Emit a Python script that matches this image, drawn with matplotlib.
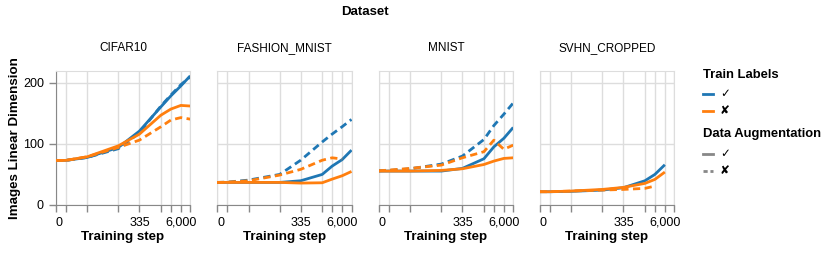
import matplotlib
matplotlib.use("Agg")
import matplotlib.pyplot as plt
from matplotlib.lines import Line2D
import numpy as np

# ── data ────────────────────────────────────────────────────────────
datasets = ["CIFAR10", "FASHION_MNIST", "MNIST", "SVHN_CROPPED"]
steps = [0, 1, 8, 77, 335, 1500, 3000, 6000, 11500]

# (labels, augmentation) -> values per dataset; None = no point
cifar_lab_aug = [72.7, 72.7, 77.6, 94, 120.8, 160.7, 178.7, 195, 211.5]
cifar_lab_noaug = [72.7, 72.7, 77.6, 92, 118, 162, 180, 197, 210]
cifar_nolab_aug = [72.7, 72.7, 78.7, 96.7, 115.8, 147, 157, 163, 162]
cifar_nolab_noaug = [72.7, 72.7, 78.7, 94, 106, 128, 139, 143, 140.5]

fashion_lab_aug = [36.6, 36.6, 36.6, 36.6, 39.3, 49.7, 63.4, 74, 89.6]
fashion_lab_noaug = [36.6, 37, 40.4, 49.7, 73, 103, 116, 128, 140]
fashion_nolab_aug = [36.6, 36.6, 36.6, 36.6, 35.5, 36, 42, 47.5, 54.6]
fashion_nolab_noaug = [36.6, 37, 39.3, 48.6, 58, 73, 77, 75, None]

mnist_lab_aug = [55.2, 55.2, 55.2, 55.2, 59.6, 75.4, 95, 109, 126.8]
mnist_lab_noaug = [55.7, 56.2, 59, 66.7, 79.8, 107, 130, 148.6, 167]
mnist_nolab_aug = [55.2, 55.2, 55.2, 56.3, 59, 66, 71.6, 76, 77]
mnist_nolab_noaug = [55.7, 56.8, 59.6, 65, 77, 87, 106, 91, 97.8]

svhn_lab_aug = [21.3, 21.3, 21.9, 24, 27.9, 39.3, 49.7, 65.6, None]
svhn_lab_noaug = [None] * 9
svhn_nolab_aug = [21.3, 21.3, 22.4, 25.1, 28.4, 35, 41.5, 53.6, None]
svhn_nolab_noaug = [21.3, 21.3, 22.4, 24, 25.1, 26.8, 30.6, None, None]

series = {
    "CIFAR10": [cifar_lab_aug, cifar_lab_noaug, cifar_nolab_aug, cifar_nolab_noaug],
    "FASHION_MNIST": [fashion_lab_aug, fashion_lab_noaug, fashion_nolab_aug, fashion_nolab_noaug],
    "MNIST": [mnist_lab_aug, mnist_lab_noaug, mnist_nolab_aug, mnist_nolab_noaug],
    "SVHN_CROPPED": [svhn_lab_aug, svhn_lab_noaug, svhn_nolab_aug, svhn_nolab_noaug],
}
# order of each list above: (✓,✓), (✓,✘), (✘,✓), (✘,✘)
combos = [(True, True), (True, False), (False, True), (False, False)]

xticks = steps
xticklabels = {0: "0", 335: "335", 6000: "6,000"}
yticks = [0, 100, 200]

BLUE = "#1f77b4"
ORANGE = "#ff7f0e"
GRID = "#dddddd"
DOMAIN = "#888888"
FAMILY = ["Liberation Sans", "DejaVu Sans"]

plt.rcParams.update({"font.family": FAMILY})


def fwd(x):
    x = np.asarray(x, dtype=float)
    return np.sign(x) * np.log1p(np.abs(x))


def inv(y):
    y = np.asarray(y, dtype=float)
    return np.sign(y) * np.expm1(np.abs(y))


W, H = 830, 258
fig = plt.figure(figsize=(W / 100, H / 100), dpi=100)

lefts = [55.7, 217.0, 378.7, 539.7]
pw, top, bottom = 134.5, 70.7, 204.7

fig.text(365 / W, 1 - 12 / H, "Dataset", ha="center", va="center",
         fontsize=9.5, fontweight="bold")

for i, name in enumerate(datasets):
    ax = fig.add_axes([lefts[i] / W, 1 - bottom / H, pw / W, (bottom - top) / H])
    ax.set_xscale("function", functions=(fwd, inv))
    ax.set_xlim(0, 11500)
    ax.set_ylim(0, 220)

    for vals, (lab, aug) in zip(series[name], combos):
        xs = [s for s, v in zip(steps, vals) if v is not None]
        ys = [v for v in vals if v is not None]
        if not xs:
            continue
        ax.plot(xs, ys, color=BLUE if lab else ORANGE, lw=2,
                linestyle="-" if aug else (0, (2.6, 1.6)),
                solid_capstyle="butt", dash_capstyle="butt", zorder=3)

    ax.set_xticks(xticks)
    ax.set_xticklabels([xticklabels.get(t, "") for t in xticks])
    ax.set_yticks(yticks)
    ax.grid(True, color=GRID, lw=1, zorder=0)
    ax.set_axisbelow(True)
    for side in ["top", "right"]:
        ax.spines[side].set_color(GRID)
    ax.spines["bottom"].set_color(DOMAIN)
    ax.tick_params(axis="x", colors=DOMAIN, length=5, width=1, labelcolor="black",
                   labelsize=9)
    lbls = ax.get_xticklabels()
    lbls[0].set_ha("left")
    if i == 0:
        ax.spines["left"].set_color(DOMAIN)
        ax.tick_params(axis="y", colors=DOMAIN, length=5, width=1,
                       labelcolor="black", labelsize=9)
        ax.set_ylabel("Images Linear Dimension", fontsize=9.6, fontweight="bold")
        ax.yaxis.set_label_coords((21 - lefts[0]) / pw, 0.5)
    else:
        ax.spines["left"].set_color(GRID)
        ax.tick_params(axis="y", length=0, labelleft=False)
    ax.set_xlabel("Training step", fontsize=9.6, fontweight="bold", labelpad=2)
    ax.set_title(name, fontsize=8.5, pad=14)

# legend
lx = 703
def legend_title(y, text):
    fig.text(lx / W, 1 - y / H, text, ha="left", va="center",
             fontsize=9.4, fontweight="bold")

def legend_row(y, color, ls, text):
    fig.add_artist(Line2D([lx / W, (lx + 10) / W], [1 - y / H, 1 - y / H],
                          color=color, lw=2, linestyle=ls,
                          transform=fig.transFigure))
    fig.text((lx + 17) / W, 1 - y / H, text, ha="left", va="center",
             fontsize=8.5, family=["DejaVu Sans"])

legend_title(75, "Train Labels")
legend_row(94, BLUE, "-", "✓")
legend_row(111, ORANGE, "-", "✘")
legend_title(134, "Data Augmentation")
legend_row(154, "#888888", "-", "✓")
legend_row(171, "#888888", (0, (1.5, 1.0)), "✘")

fig.savefig("out.png", dpi=100)
